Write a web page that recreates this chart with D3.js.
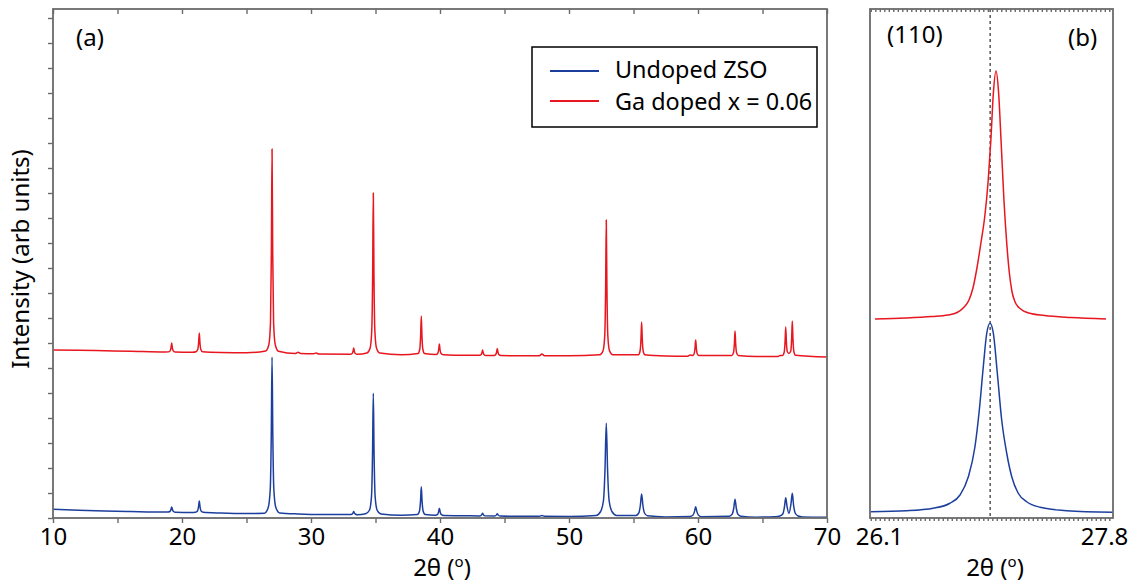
<!DOCTYPE html>
<html>
<head>
<meta charset="utf-8">
<script src="https://cdn.jsdelivr.net/npm/d3@7"></script>
<style>
  html, body { margin: 0; padding: 0; background: #fff; }
  svg { display: block; font-family: "Noto Sans", "Open Sans", sans-serif; }
</style>
</head>
<body>
<svg id="chart" width="1134" height="588"></svg>
<script>
// XRD patterns: [2θ (deg), intensity (arb. units, offset for stacking)]
const undopedA = [
  [10,0.35],[12,0.31],[14,0.28],[16,0.26],[18.6,0.24],
  [18.9,0.24],[19.06,0.26],[19.14,0.335],[19.2,0.44],[19.26,0.335],[19.34,0.26],[19.5,0.23],
  [20.7,0.22],[21.04,0.23],[21.2,0.28],[21.28,0.445],[21.34,0.68],[21.4,0.445],[21.48,0.28],[21.64,0.23],
  [23,0.2],[25,0.18],[26.38,0.19],[26.68,0.41],[26.84,1.14],[26.92,3.3],[26.98,6.44],[27.04,3.3],[27.12,1.14],[27.28,0.41],[27.58,0.2],
  [29,0.16],[31,0.14],[33.0,0.14],[33.17,0.15],[33.25,0.195],[33.31,0.26],[33.37,0.195],[33.45,0.15],[33.6,0.13],
  [34.23,0.17],[34.53,0.31],[34.69,0.87],[34.77,2.56],[34.83,4.99],[34.89,2.56],[34.97,0.87],[35.13,0.31],[35.43,0.16],
  [37,0.11],[38.25,0.14],[38.41,0.28],[38.49,0.675],[38.55,1.25],[38.61,0.675],[38.69,0.28],[38.85,0.14],
  [39.65,0.11],[39.81,0.145],[39.89,0.245],[39.95,0.39],[40.01,0.245],[40.09,0.145],[40.3,0.1],
  [42,0.09],[43.1,0.085],[43.24,0.135],[43.3,0.19],[43.36,0.135],[43.5,0.085],
  [44.24,0.08],[44.38,0.125],[44.44,0.17],[44.5,0.125],[44.64,0.08],
  [46,0.07],[47.7,0.07],[47.9,0.1],[48.1,0.07],
  [50,0.065],[52.09,0.1],[52.44,0.25],[52.67,0.69],[52.79,1.93],[52.89,3.79],[52.99,1.93],[53.11,0.69],[53.34,0.25],[53.69,0.1],
  [55.18,0.1],[55.41,0.2],[55.53,0.5],[55.63,0.96],[55.73,0.5],[55.85,0.2],[56.08,0.09],
  [57.5,0.045],[59.37,0.06],[59.6,0.11],[59.72,0.245],[59.82,0.45],[59.92,0.245],[60.04,0.11],[60.27,0.055],
  [62.42,0.07],[62.65,0.155],[62.77,0.39],[62.87,0.75],[62.97,0.39],[63.09,0.155],[63.32,0.07],
  [64.5,0.035],[66.0,0.05],[66.35,0.08],[66.58,0.17],[66.7,0.44],[66.8,0.81],[66.9,0.47],[67.05,0.19],
  [67.21,0.57],[67.31,0.99],[67.41,0.51],[67.53,0.2],[67.76,0.08],[68.1,0.045],
  [70,0.03]
];

const gaDopedA = [
  [10,6.72],[12,6.71],[14,6.69],[16,6.67],[18.7,6.64],
  [18.95,6.645],[19.08,6.685],[19.15,6.815],[19.2,7.0],[19.25,6.815],[19.32,6.685],[19.45,6.64],
  [20.8,6.63],[21.09,6.65],[21.22,6.74],[21.29,7.01],[21.34,7.4],[21.39,7.01],[21.46,6.74],[21.59,6.65],
  [23,6.62],[25,6.61],[26.48,6.68],[26.73,6.93],[26.86,7.81],[26.93,10.68],[26.98,14.76],[27.03,10.68],[27.1,7.81],[27.23,6.93],[27.48,6.67],
  [28.8,6.58],[29.0,6.63],[29.2,6.58],[30.2,6.57],[30.4,6.6],[30.6,6.56],
  [33.05,6.55],[33.19,6.58],[33.26,6.67],[33.31,6.8],[33.36,6.67],[33.43,6.58],[33.6,6.55],
  [34.33,6.6],[34.58,6.79],[34.71,7.5],[34.78,9.77],[34.83,13.0],[34.88,9.77],[34.95,7.5],[35.08,6.79],[35.33,6.6],
  [37,6.53],[38.3,6.58],[38.43,6.75],[38.5,7.3],[38.55,8.08],[38.6,7.3],[38.67,6.75],[38.8,6.58],
  [39.7,6.54],[39.83,6.59],[39.9,6.74],[39.95,6.96],[40.0,6.74],[40.07,6.59],[40.25,6.53],
  [42,6.51],[43.1,6.51],[43.18,6.53],[43.25,6.61],[43.3,6.72],[43.35,6.61],[43.42,6.53],[43.55,6.5],
  [44.2,6.5],[44.32,6.54],[44.39,6.64],[44.44,6.78],[44.49,6.64],[44.56,6.54],[44.7,6.5],
  [46,6.49],[47.7,6.49],[47.9,6.56],[48.1,6.49],
  [50,6.49],[52.39,6.53],[52.64,6.69],[52.77,7.29],[52.84,9.2],[52.89,11.92],[52.94,9.2],[53.01,7.29],[53.14,6.69],[53.39,6.53],
  [55.38,6.53],[55.51,6.68],[55.58,7.16],[55.63,7.84],[55.68,7.16],[55.75,6.68],[55.88,6.53],
  [57.5,6.48],[59.2,6.47],[59.4,6.52],[59.57,6.5],[59.7,6.57],[59.77,6.8],[59.82,7.12],[59.87,6.8],[59.94,6.57],[60.07,6.5],
  [62.62,6.5],[62.75,6.61],[62.82,6.97],[62.87,7.48],[62.92,6.97],[62.99,6.61],[63.12,6.5],
  [64.5,6.46],[66.2,6.46],[66.36,6.5],[66.55,6.5],[66.68,6.63],[66.75,7.05],[66.8,7.64],[66.85,7.05],[66.92,6.66],
  [67.05,6.58],[67.19,6.68],[67.26,7.17],[67.31,7.88],[67.36,7.17],[67.43,6.66],[67.56,6.51],
  [70,6.44]
];

// (110) reflection, close-up
const undopedB = [
  [26.037,0.25],[26.309,0.29],[26.51,0.39],[26.636,0.59],[26.712,0.92],[26.775,1.65],[26.825,2.85],
  [26.858,4.32],[26.888,6.05],[26.914,7.39],[26.939,7.79],[26.964,7.39],[26.994,5.79],[27.027,3.92],
  [27.065,2.59],[27.103,1.65],[27.152,0.99],[27.216,0.65],[27.317,0.43],[27.518,0.29],[27.866,0.23]
];

const gaDopedB = [
  [26.07,7.96],[26.3,8.0],[26.5,8.06],[26.62,8.12],[26.69,8.22],[26.74,8.42],[26.78,8.72],
  [26.81,9.2],[26.84,10.0],[26.87,11.0],[26.9,12.1],[26.925,13.5],[26.945,15.1],[26.964,16.99],
  [26.984,17.88],[27.004,16.99],[27.022,15.12],[27.044,12.72],[27.065,11.0],[27.085,9.8],
  [27.105,9.05],[27.13,8.62],[27.17,8.36],[27.23,8.2],[27.35,8.1],[27.55,8.02],[27.815,7.96]
];

const seriesNames = ["Undoped ZSO", "Ga doped x = 0.06"];
const seriesColors = ["#1c3f9e", "#e8161f"];
const xTicksA = d3.range(10, 71, 5);
const xLabelsA = [10, 20, 30, 40, 50, 60, 70];
const yTicks = d3.range(0, 21, 1);
const xLabelsB = [26.1, 27.8];
const refPeakB = 26.94;   // position of the undoped (110) maximum

const svg = d3.select("#chart");
const frameColor = "#6b6b6b";
const fontSize = 24;

// ---------- panel (a) ----------
const A = { left: 53, right: 827, top: 9, bottom: 518 };
const xA = d3.scaleLinear().domain([10, 70]).range([A.left, A.right]);
const yA = d3.scaleLinear().domain([0, 20.36]).range([A.bottom, A.top]);

// ---------- panel (b) ----------
const B = { left: 870, right: 1113, top: 9, bottom: 518 };
const pxPerDeg = (1104 - 879) / (27.8 - 26.1);
const xB = d3.scaleLinear()
  .domain([26.1 - (879 - B.left) / pxPerDeg, 27.8 + (B.right - 1104) / pxPerDeg])
  .range([B.left, B.right]);
const yB = d3.scaleLinear().domain([0, 20.36]).range([B.bottom, B.top]);

function styleAxis(g) {
  g.select(".domain").remove();
  g.selectAll(".tick line").attr("stroke", frameColor).attr("stroke-width", 1.4);
  g.selectAll(".tick text").attr("fill", "#000").attr("font-size", fontSize)
    .attr("font-family", "Noto Sans, Open Sans, sans-serif");
}

// panel (a) axes
svg.append("g").attr("transform", `translate(0,${A.bottom})`)
  .call(d3.axisBottom(xA).tickValues(xTicksA).tickSize(5).tickPadding(5)
    .tickFormat(d => xLabelsA.includes(d) ? d : ""))
  .call(styleAxis);
svg.append("g").attr("transform", `translate(0,${A.top})`)
  .call(d3.axisTop(xA).tickValues(xTicksA).tickSize(-5).tickFormat(""))
  .call(styleAxis);
svg.append("g").attr("transform", `translate(${A.left},0)`)
  .call(d3.axisLeft(yA).tickValues(yTicks).tickSize(5).tickFormat(""))
  .call(styleAxis);

// panel (b) axes
const minorB = d3.range(xB.domain()[0] + 0.006, xB.domain()[1], 0.034);
svg.append("g").attr("transform", `translate(0,${B.bottom})`)
  .call(d3.axisBottom(xB).tickValues(minorB).tickSize(3).tickFormat(""))
  .call(styleAxis);
svg.append("g").attr("transform", `translate(0,${B.bottom})`)
  .call(d3.axisBottom(xB).tickValues(xLabelsB).tickSize(0).tickPadding(10)
    .tickFormat(d3.format(".1f")))
  .call(styleAxis);
svg.append("g").attr("transform", `translate(0,${B.top})`)
  .call(d3.axisTop(xB).tickValues(minorB).tickSize(-3).tickFormat(""))
  .call(styleAxis);

// reference line through the undoped (110) maximum
svg.append("line")
  .attr("x1", xB(refPeakB)).attr("x2", xB(refPeakB))
  .attr("y1", B.top).attr("y2", B.bottom)
  .attr("stroke", "#555").attr("stroke-width", 1.5).attr("stroke-dasharray", "3,3");

// curves
const lineA = d3.line().x(d => xA(d[0])).y(d => yA(d[1])).curve(d3.curveMonotoneX);
const lineB = d3.line().x(d => xB(d[0])).y(d => yB(d[1])).curve(d3.curveMonotoneX);

[[gaDopedA, 1], [undopedA, 0]].forEach(([data, i]) => {
  svg.append("path").datum(data).attr("d", lineA)
    .attr("fill", "none").attr("stroke", seriesColors[i]).attr("stroke-width", 1.5)
    .attr("stroke-linejoin", "round");
});
[[gaDopedB, 1], [undopedB, 0]].forEach(([data, i]) => {
  svg.append("path").datum(data).attr("d", lineB)
    .attr("fill", "none").attr("stroke", seriesColors[i]).attr("stroke-width", 1.5)
    .attr("stroke-linejoin", "round");
});

// frames
[A, B].forEach(p => {
  svg.append("rect")
    .attr("x", p.left).attr("y", p.top)
    .attr("width", p.right - p.left).attr("height", p.bottom - p.top)
    .attr("fill", "none").attr("stroke", frameColor).attr("stroke-width", 1.8);
});

// panel labels
const txt = (x, y, s, anchor = "start") => svg.append("text")
  .attr("x", x).attr("y", y).attr("text-anchor", anchor)
  .attr("font-size", fontSize).attr("fill", "#000").text(s);
txt(76, 46, "(a)");
txt(887, 43, "(110)");
txt(1068, 46, "(b)");

// axis titles
function twoTheta(cx) {
  const t = svg.append("text").attr("x", cx).attr("y", 576)
    .attr("text-anchor", "middle").attr("font-size", fontSize).attr("fill", "#000");
  t.append("tspan").text("2θ (");
  t.append("tspan").attr("font-size", 15).attr("dy", -9).text("o");
  t.append("tspan").attr("dy", 9).text(")");
}
twoTheta((A.left + A.right) / 2 + 2);
twoTheta(995);

svg.append("text")
  .attr("transform", "translate(29,259) rotate(-90)")
  .attr("text-anchor", "middle").attr("font-size", fontSize).attr("fill", "#000")
  .text("Intensity (arb units)");

// legend
const legendFont = 23.4;
const leg = svg.append("g");
leg.append("rect").attr("x", 532).attr("y", 47).attr("width", 285).attr("height", 80)
  .attr("fill", "#fff").attr("stroke", "#000").attr("stroke-width", 1.5);
seriesNames.forEach((name, i) => {
  const y = 71 + i * 30;
  leg.append("line").attr("x1", 550).attr("x2", 599).attr("y1", y).attr("y2", y)
    .attr("stroke", seriesColors[i]).attr("stroke-width", 2);
  leg.append("text").attr("x", 615).attr("y", 78 + i * 32).attr("font-size", legendFont)
    .attr("fill", "#000").text(name);
});
</script>
</body>
</html>
